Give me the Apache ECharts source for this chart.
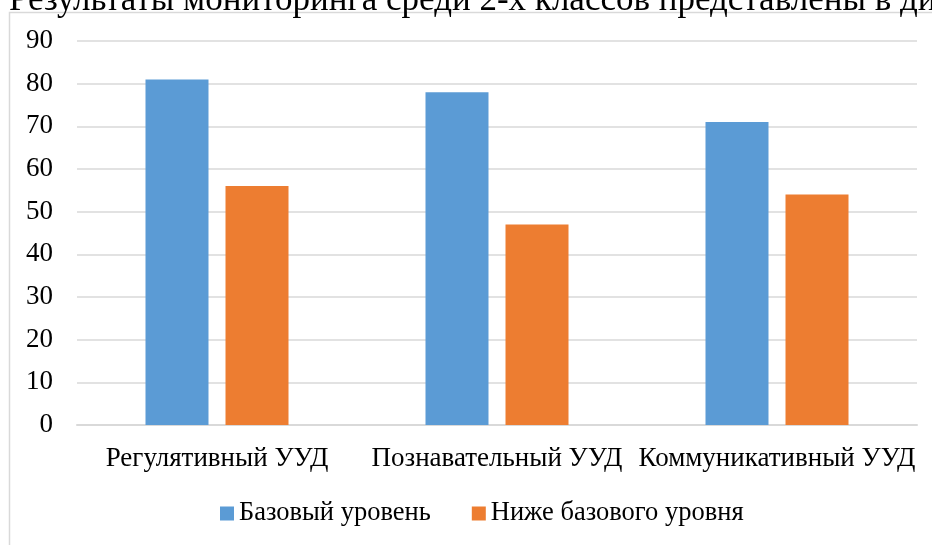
<!DOCTYPE html>
<html lang="ru">
  <head>
    <meta charset="UTF-8" />
    <title>Мониторинг УУД</title>
    <script src="https://cdn.jsdelivr.net/npm/echarts@6/dist/echarts.min.js"></script>
    <style>
      html, body { margin: 0; padding: 0; background: #fff; }
      .echarts { width: 932px; height: 545px; }
    </style>
  </head>
  <body>
    <div class="echarts"></div>
    <script>
      // данные
      const categories = ['Регулятивный УУД', 'Познавательный УУД', 'Коммуникативный УУД']
      const baseLevel = [81, 78, 71]
      const belowBase = [56, 47, 54]
      const seriesNames = ['Базовый уровень', 'Ниже базового уровня']
      const yTicks = { min: 0, max: 90, step: 10 }
      const headText = 'Результаты мониторинга среди 2-х классов представлены в ди'

      const font = 'Liberation Serif'
      const myCharts = echarts.init(document.querySelector('.echarts'))

      const option = {
        animation: false,
        textStyle: { fontFamily: font },
        graphic: [
          // рамка области диаграммы
          {
            type: 'rect',
            shape: { x: 9.5, y: 12.5, width: 1000, height: 600 },
            style: { fill: 'none', stroke: '#d9d9d9', lineWidth: 1.5 },
            silent: true
          },
          // обрезанный текст сверху
          {
            type: 'text',
            left: 9,
            top: -17,
            style: { text: headText, fontSize: 35, fontFamily: font, fill: '#000' },
            silent: true
          }
        ],
        legend: {
          bottom: 13,
          left: 215,
          itemWidth: 14,
          itemHeight: 14,
          itemGap: 41,
          icon: 'rect',
          textStyle: { fontSize: 26.5, color: '#000', fontFamily: font }
        },
        grid: { left: 77, right: 15, top: 41, bottom: 120 },
        xAxis: {
          type: 'category',
          data: categories,
          axisTick: { show: false },
          axisLine: { lineStyle: { color: '#d9d9d9', width: 2 } },
          axisLabel: { fontSize: 27, color: '#000', margin: 20, interval: 0, fontFamily: font }
        },
        yAxis: {
          type: 'value',
          min: yTicks.min,
          max: yTicks.max,
          interval: yTicks.step,
          axisLine: { show: false },
          axisTick: { show: false },
          splitLine: { lineStyle: { color: '#d9d9d9', width: 1.5 } },
          axisLabel: { fontSize: 27, color: '#000', margin: 24, fontFamily: font }
        },
        series: [
          { name: seriesNames[0], type: 'bar', data: baseLevel, barWidth: 63, barGap: '27%', itemStyle: { color: '#5B9BD5' } },
          { name: seriesNames[1], type: 'bar', data: belowBase, barWidth: 63, itemStyle: { color: '#ED7D31' } }
        ]
      }

      myCharts.setOption(option)
    </script>
  </body>
</html>
